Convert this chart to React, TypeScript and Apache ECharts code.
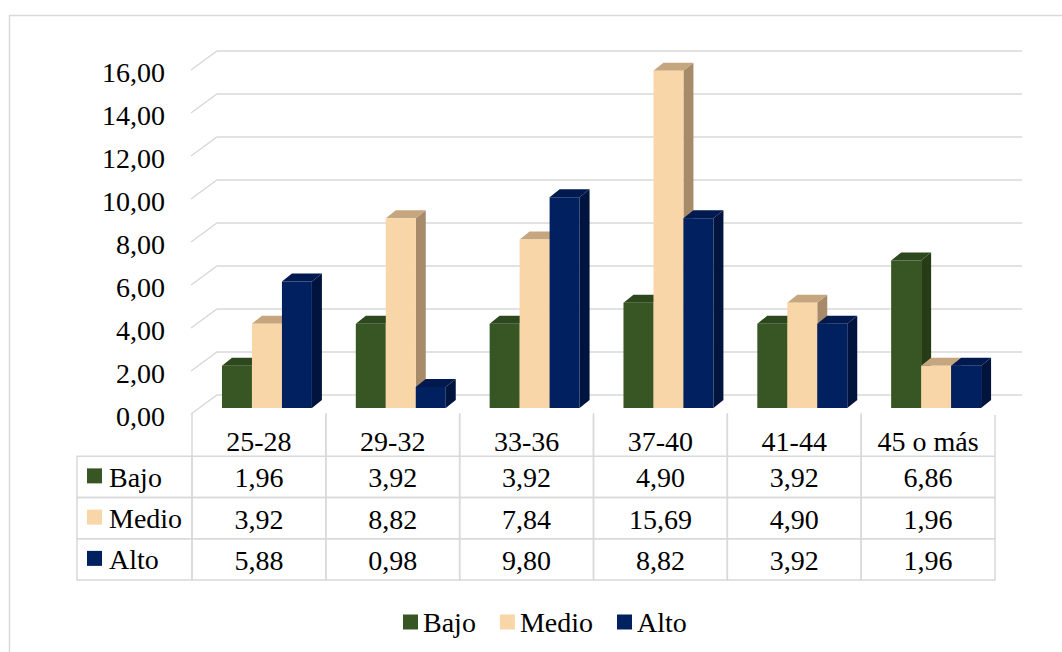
import React, { useEffect, useRef } from 'react';
import * as echarts from 'echarts';

const categories = ['25-28', '29-32', '33-36', '37-40', '41-44', '45 o más'];
const levels = ['Bajo', 'Medio', 'Alto'];
const bajo = [1.96, 3.92, 3.92, 4.9, 3.92, 6.86];
const medio = [3.92, 8.82, 7.84, 15.69, 4.9, 1.96];
const alto = [5.88, 0.98, 9.8, 8.82, 3.92, 1.96];
const yTicks = [0, 2, 4, 6, 8, 10, 12, 14, 16];

const seriesValues = [bajo, medio, alto];
const frontColors = ['#375623', '#F9D6A8', '#002060'];
const topColors = ['#2D481C', '#C6A67F', '#001A50'];
const sideColors = ['#263C17', '#A68A69', '#00143D'];

const FONT = 'Liberation Serif';
const GRID_LINE = '#D9D9D9';

const fmt = (v: number) => v.toFixed(2).replace('.', ',');

export default function App() {
  const ref = useRef<HTMLDivElement>(null);

  useEffect(() => {
    if (!ref.current) return;
    document.body.style.margin = '0';
    const chart = echarts.init(ref.current, undefined, { renderer: 'svg' });

    const barSeries = levels.map((name, k) => ({
      name,
      type: 'custom',
      xAxisIndex: 0,
      yAxisIndex: 0,
      itemStyle: { color: frontColors[k] },
      data: seriesValues[k].map((v, i) => [i, v]),
      z: 5,
      renderItem: (params: any, api: any) => {
        const c = api.value(0);
        const v = api.value(1);
        const b = api.coord([c, 0]);
        const t = api.coord([c, v]);
        const bw = api.size([1, 0])[0];
        const w = bw * 0.224;
        const cx = b[0] + bw * 0.06;
        const x0 = cx - 1.5 * w + k * w;
        const x1 = x0 + w;
        const yb = b[1] - 6;
        const yt = t[1] - 6;
        const dx = 10;
        const dy = 8;
        return {
          type: 'group',
          children: [
            {
              type: 'polygon',
              shape: { points: [[x1, yt], [x1 + dx, yt - dy], [x1 + dx, yb - dy], [x1, yb]] },
              style: { fill: sideColors[k] },
            },
            {
              type: 'polygon',
              shape: { points: [[x0, yt], [x0 + dx, yt - dy], [x1 + dx, yt - dy], [x1, yt]] },
              style: { fill: topColors[k] },
            },
            {
              type: 'rect',
              shape: { x: x0, y: yt, width: w, height: yb - yt },
              style: { fill: frontColors[k] },
            },
          ],
        };
      },
    }));

    const gridLineSeries = {
      type: 'custom',
      xAxisIndex: 0,
      yAxisIndex: 0,
      z: 1,
      silent: true,
      data: yTicks.map((v) => [0, v]),
      renderItem: (params: any, api: any) => {
        const v = api.value(1);
        const y = api.coord([0, v])[1];
        const cs = params.coordSys;
        return {
          type: 'group',
          children: [
            {
              type: 'polyline',
              shape: {
                points: [
                  [cs.x - 1, y],
                  [cs.x + 25, y - 19],
                  [cs.x + cs.width + 27, y - 19],
                ],
              },
              style: { fill: 'none', stroke: GRID_LINE, lineWidth: 1.5 },
            },
            {
              type: 'text',
              x: cs.x - 27,
              y: y + 2,
              style: {
                text: fmt(v),
                fill: '#000',
                fontSize: 28,
                fontFamily: FONT,
                align: 'right',
                verticalAlign: 'middle',
              },
            },
          ],
        };
      },
    };

    const textStyle = (text: string, align: string) => ({
      text,
      fill: '#000',
      fontSize: 28,
      fontFamily: FONT,
      align,
      verticalAlign: 'middle',
    });

    const headerSeries = {
      type: 'custom',
      xAxisIndex: 1,
      yAxisIndex: 1,
      silent: true,
      data: categories.map((_, i) => [i, 0]),
      renderItem: (params: any, api: any) => {
        const i = api.value(0);
        const p = api.coord([i, 0]);
        const s = api.size([1, 1]);
        const l = p[0] - s[0] / 2;
        const r = p[0] + s[0] / 2;
        const t = p[1] - s[1] / 2;
        const b = p[1] + s[1] / 2;
        const ls = { stroke: GRID_LINE, lineWidth: 1.5 };
        return {
          type: 'group',
          children: [
            { type: 'line', shape: { x1: l, y1: t - 2, x2: l, y2: b }, style: ls },
            { type: 'line', shape: { x1: r, y1: t, x2: r, y2: b }, style: ls },
            { type: 'text', x: p[0], y: p[1] + 6, style: textStyle(categories[i], 'center') },
          ],
        };
      },
    };

    const cellData: number[][] = [];
    seriesValues.forEach((vals, r) => vals.forEach((v, i) => cellData.push([i, r + 1, v])));

    const cellSeries = {
      type: 'custom',
      xAxisIndex: 1,
      yAxisIndex: 1,
      silent: true,
      data: cellData,
      renderItem: (params: any, api: any) => {
        const i = api.value(0);
        const r = api.value(1);
        const v = api.value(2);
        const p = api.coord([i, r]);
        const s = api.size([1, 1]);
        return {
          type: 'group',
          children: [
            {
              type: 'rect',
              shape: { x: p[0] - s[0] / 2, y: p[1] - s[1] / 2, width: s[0], height: s[1] },
              style: { fill: 'none', stroke: GRID_LINE, lineWidth: 1.5 },
            },
            { type: 'text', x: p[0], y: p[1] + 1, style: textStyle(fmt(v), 'center') },
          ],
        };
      },
    };

    const labelSeries = {
      type: 'custom',
      xAxisIndex: 1,
      yAxisIndex: 1,
      silent: true,
      data: levels.map((_, r) => [0, r + 1]),
      renderItem: (params: any, api: any) => {
        const r = api.value(1);
        const p = api.coord([0, r]);
        const s = api.size([1, 1]);
        const left = p[0] - s[0] / 2;
        const k = r - 1;
        return {
          type: 'group',
          children: [
            {
              type: 'rect',
              shape: { x: left - 115, y: p[1] - s[1] / 2, width: 115, height: s[1] },
              style: { fill: 'none', stroke: GRID_LINE, lineWidth: 1.5 },
            },
            {
              type: 'rect',
              shape: { x: left - 105, y: p[1] - 8.5, width: 15, height: 15 },
              style: { fill: frontColors[k] },
            },
            { type: 'text', x: left - 83, y: p[1] + 0.5, style: textStyle(levels[k], 'left') },
          ],
        };
      },
    };

    chart.setOption({
      animation: false,
      graphic: [
        {
          type: 'rect',
          shape: { x: 9.5, y: 15.5, width: 1100, height: 700 },
          style: { fill: 'none', stroke: GRID_LINE, lineWidth: 1.5 },
          silent: true,
        },
      ],
      grid: [
        { left: 192, right: 67, top: 70, height: 344 },
        { left: 192, right: 67, top: 415, height: 165 },
      ],
      xAxis: [
        { type: 'category', gridIndex: 0, data: categories, show: false },
        { type: 'category', gridIndex: 1, data: categories, show: false },
      ],
      yAxis: [
        {
          type: 'value',
          gridIndex: 0,
          min: 0,
          max: 16,
          interval: 2,
          show: false,
        },
        {
          type: 'category',
          gridIndex: 1,
          data: ['', ...levels],
          inverse: true,
          show: false,
        },
      ],
      legend: {
        data: levels,
        icon: 'rect',
        itemWidth: 15,
        itemHeight: 15,
        itemGap: 24,
        left: 398,
        top: 603,
        selectedMode: false,
        textStyle: { fontSize: 28, fontFamily: FONT, color: '#000' },
      },
      series: [gridLineSeries, ...barSeries, headerSeries, cellSeries, labelSeries],
    });

    return () => chart.dispose();
  }, []);

  return <div ref={ref} style={{ width: 1062, height: 652, background: '#fff' }} />;
}
